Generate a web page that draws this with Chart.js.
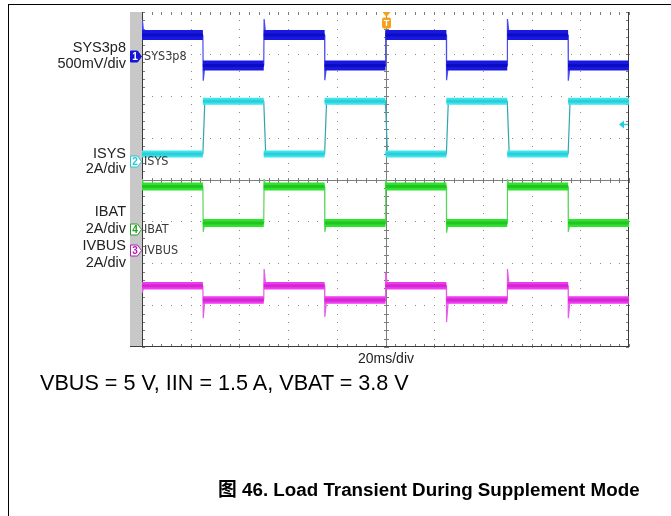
<!DOCTYPE html>
<html>
<head>
<meta charset="utf-8">
<script src="https://cdn.jsdelivr.net/npm/chart.js@4.4.0/dist/chart.umd.min.js"></script>
<style>
  html, body { margin: 0; padding: 0; background: #fff; width: 671px; height: 516px; overflow: hidden; }
  #wrap { position: relative; width: 671px; height: 516px; }
  #frame { position: absolute; left: 8px; top: 4px; width: 700px; height: 600px;
           border-left: 1px solid #000; border-top: 1px solid #000; }
  canvas { position: absolute; left: 0; top: 0; }
  .lbl { position: absolute; font-family: "Liberation Sans", Arial, Helvetica, "Noto Sans CJK SC", sans-serif;
         color: #222; white-space: nowrap; }
  .ch { right: 545px; text-align: right; font-size: 14.5px; line-height: 16px; }
</style>
</head>
<body>
<div id="wrap">
  <div id="frame"></div>
  <canvas id="scope" width="671" height="516"></canvas>

  <div class="lbl ch" style="top:39px">SYS3p8</div>
  <div class="lbl ch" style="top:55px">500mV/div</div>
  <div class="lbl ch" style="top:145px">ISYS</div>
  <div class="lbl ch" style="top:160px">2A/div</div>
  <div class="lbl ch" style="top:203px">IBAT</div>
  <div class="lbl ch" style="top:220px">2A/div</div>
  <div class="lbl ch" style="top:237px">IVBUS</div>
  <div class="lbl ch" style="top:254px">2A/div</div>

  <div class="lbl" style="left:358px;top:351px;font-size:14px;line-height:14px;">20ms/div</div>
  <div class="lbl" style="left:40px;top:372px;font-size:21.6px;line-height:21px;color:#000;">VBUS = 5 V, IIN = 1.5 A, VBAT = 3.8 V</div>
  <div class="lbl" style="left:218px;top:481px;font-size:18.8px;line-height:18px;font-weight:bold;color:#000;">图 46. Load Transient During Supplement Mode</div>
</div>

<script>
// Screen: 10 horizontal divisions at 20 ms/div, 8 vertical divisions
const timeTicks = [-100, -80, -60, -40, -20, 0, 20, 40, 60, 80, 100];   // ms
const divTicks  = [-4, -3, -2, -1, 0, 1, 2, 3, 4];                       // divisions

// Load steps every 25 ms
const edgeTimes = [-100, -75, -50, -25, 0, 25, 50, 75, 100];

// Settled level of each trace between successive edges (screen divisions)
const sys3p8Levels = [3.45, 2.72, 3.45, 2.72, 3.45, 2.72, 3.45, 2.72];
const isysLevels   = [0.61, 1.87, 0.61, 1.87, 0.61, 1.87, 0.61, 1.87];
const ibatLevels   = [-0.17, -1.04, -0.17, -1.04, -0.17, -1.04, -0.17, -1.04];
const ivbusLevels  = [-2.54, -2.88, -2.54, -2.88, -2.54, -2.88, -2.54, -2.88];

// Overshoot / undershoot peak at each edge (null where the step is clean)
const sys3p8Peaks = [3.81, 2.36, 3.83, 2.37, 3.55, 2.37, 3.83, 2.36];
const isysPeaks   = [null, null, null, null, null, null, null, null];
const ibatPeaks   = [0.01, -1.25, 0.01, -1.25, 0.0, -1.27, 0.01, -1.25];
const ivbusPeaks  = [-2.70, -3.31, -2.14, -3.28, -2.20, -3.40, -2.14, -3.31];

// Channel ground markers on the left edge
const channelNames   = ['SYS3p8', 'ISYS', 'IVBUS', 'IBAT'];
const channelNumbers = ['1', '2', '3', '4'];
const channelZero    = [2.96, 0.44, -1.68, -1.19];
const triggerTime    = 0;
const isysRefLevel   = 1.33;

const chColors = {
  '1': { band: '#1818e2', core: '#0c0cc0', edge: '#4a4af2', tag: '#1414d8', filled: true },
  '2': { band: '#3de5ec', core: '#2ccfd8', edge: '#2fa5ae', tag: '#22c8d4', filled: false },
  '3': { band: '#f03af0', core: '#d226d2', edge: '#e55ce5', tag: '#b020b0', filled: false },
  '4': { band: '#2ee22e', core: '#22c422', edge: '#5ad45a', tag: '#22a022', filled: false }
};

// Thin trace including the vertical steps and their ringing peaks
function edgePath(levels, peaks) {
  const pts = [];
  for (let i = 0; i < levels.length; i++) {
    const t0 = edgeTimes[i], t1 = edgeTimes[i + 1];
    const prev = i > 0 ? levels[i - 1] : levels[i];
    pts.push({ x: t0, y: prev });
    if (peaks[i] !== null) pts.push({ x: t0 + 0.15, y: peaks[i] });
    pts.push({ x: t0 + 0.8, y: levels[i] });
    pts.push({ x: t1, y: levels[i] });
  }
  return pts;
}
// Flat noisy plateaus, one segment per level
function bandPath(levels) {
  const pts = [];
  for (let i = 0; i < levels.length; i++) {
    pts.push({ x: edgeTimes[i], y: levels[i] });
    pts.push({ x: edgeTimes[i + 1], y: levels[i] });
    pts.push({ x: edgeTimes[i + 1], y: null });
  }
  return pts;
}

function traceSets(levels, peaks, num, bandWidth) {
  const c = chColors[num];
  const common = { pointRadius: 0, tension: 0, fill: false, spanGaps: false, borderCapStyle: 'butt' };
  return [
    Object.assign({ label: 'ch' + num + ' step', data: edgePath(levels, peaks), borderColor: c.edge,
                    borderWidth: 1.2, borderJoinStyle: 'bevel', order: 3 }, common),
    Object.assign({ label: 'ch' + num, data: bandPath(levels), borderColor: c.band,
                    borderWidth: bandWidth, order: 2 }, common),
    Object.assign({ label: 'ch' + num + ' core', data: bandPath(levels), borderColor: c.core,
                    borderWidth: 3, order: 1 }, common)
  ];
}

const screenPlugin = {
  id: 'scopeScreen',
  beforeDatasetsDraw(chart) {
    const { ctx, chartArea: a, scales: { x, y } } = chart;
    ctx.save();
    // marker strip
    ctx.fillStyle = '#c8c8c8';
    ctx.fillRect(a.left - 12, a.top, 12, a.bottom - a.top);

    // dotted graticule
    ctx.fillStyle = '#8a8a8a';
    for (const t of timeTicks) {
      if (t === timeTicks[0] || t === timeTicks[timeTicks.length - 1] || t === 0) continue;
      const px = Math.round(x.getPixelForValue(t));
      for (let k = 0; k <= 40; k++) {
        const py = Math.round(y.getPixelForValue(-4 + k * 0.2));
        ctx.fillRect(px, py, 1, 1);
      }
    }
    for (const v of divTicks) {
      if (Math.abs(v) === 4 || v === 0) continue;
      const py = Math.round(y.getPixelForValue(v));
      for (let k = 0; k <= 50; k++) {
        const px = Math.round(x.getPixelForValue(-100 + k * 4));
        ctx.fillRect(px, py, 1, 1);
      }
    }

    // centre cross with minor ticks
    const cx = Math.round(x.getPixelForValue(0)) + 0.5;
    const cy = Math.round(y.getPixelForValue(0)) + 0.5;
    ctx.strokeStyle = '#7c7c7c';
    ctx.lineWidth = 1;
    ctx.beginPath();
    ctx.moveTo(a.left, cy); ctx.lineTo(a.right, cy);
    ctx.moveTo(cx, a.top); ctx.lineTo(cx, a.bottom);
    for (let k = 0; k <= 50; k++) {
      const px = Math.round(x.getPixelForValue(-100 + k * 4)) + 0.5;
      ctx.moveTo(px, cy - 2.5); ctx.lineTo(px, cy + 2.5);
      // ticks on top and bottom edges
      ctx.moveTo(px, a.top); ctx.lineTo(px, a.top + 3);
      ctx.moveTo(px, a.bottom); ctx.lineTo(px, a.bottom - 3);
    }
    for (let k = 0; k <= 40; k++) {
      const py = Math.round(y.getPixelForValue(-4 + k * 0.2)) + 0.5;
      ctx.moveTo(cx - 2.5, py); ctx.lineTo(cx + 2.5, py);
      ctx.moveTo(a.left, py); ctx.lineTo(a.left + 3, py);
      ctx.moveTo(a.right, py); ctx.lineTo(a.right - 3, py);
    }
    ctx.stroke();

    // left, right and bottom borders
    ctx.strokeStyle = '#3c3c3c';
    ctx.beginPath();
    const l = Math.round(a.left) + 0.5, r = Math.round(a.right) - 0.5, b = Math.round(a.bottom) - 0.5;
    ctx.moveTo(l, a.top); ctx.lineTo(l, a.bottom);
    ctx.moveTo(r, a.top); ctx.lineTo(r, a.bottom);
    ctx.moveTo(a.left - 12, b); ctx.lineTo(a.right, b);
    ctx.stroke();
    ctx.restore();
  },
  afterDatasetsDraw(chart) {
    const { ctx, chartArea: a, scales: { x, y } } = chart;
    ctx.save();
    // channel tags
    for (let i = 0; i < channelNames.length; i++) {
      const num = channelNumbers[i];
      const c = chColors[num];
      const py = Math.round(y.getPixelForValue(channelZero[i])) + 0.5;
      const xl = a.left - 11.5, xr = a.left - 4.5, xt = a.left - 0.5, h = 5.5;
      ctx.beginPath();
      ctx.moveTo(xl, py - h); ctx.lineTo(xr, py - h); ctx.lineTo(xt, py);
      ctx.lineTo(xr, py + h); ctx.lineTo(xl, py + h); ctx.closePath();
      ctx.fillStyle = c.filled ? c.tag : '#ffffff';
      ctx.fill();
      ctx.lineWidth = 1;
      ctx.strokeStyle = c.tag;
      ctx.stroke();
      ctx.fillStyle = c.filled ? '#ffffff' : c.tag;
      ctx.font = 'bold 10px "Liberation Sans", Arial, sans-serif';
      ctx.textAlign = 'center';
      ctx.textBaseline = 'middle';
      ctx.fillText(num, xl + 4.5, py + 0.5);
      ctx.fillStyle = '#3a3a3a';
      ctx.font = '12.5px "Liberation Sans Narrow", "DejaVu Sans Condensed", Arial, sans-serif';
      ctx.textAlign = 'left';
      ctx.fillText(channelNames[i], a.left + 2, py + 0.5);
    }

    // trigger position marker
    const tx = Math.round(x.getPixelForValue(triggerTime)) + 0.5;
    ctx.fillStyle = '#f4a21c';
    ctx.beginPath();
    ctx.moveTo(tx - 4, a.top); ctx.lineTo(tx + 4, a.top); ctx.lineTo(tx, a.top + 5); ctx.closePath();
    ctx.fill();
    ctx.beginPath();
    ctx.roundRect(tx - 4.5, a.top + 5.5, 9, 11, 2);
    ctx.fill();
    ctx.fillStyle = '#ffffff';
    ctx.font = 'bold 9px "Liberation Sans", Arial, sans-serif';
    ctx.textAlign = 'center';
    ctx.textBaseline = 'middle';
    ctx.fillText('T', tx, a.top + 11.5);

    // ISYS trigger-level arrow at the right edge
    const ay = Math.round(y.getPixelForValue(isysRefLevel)) + 0.5;
    const ar = Math.round(a.right) - 1;
    ctx.strokeStyle = '#22d0dc';
    ctx.fillStyle = '#22d0dc';
    ctx.lineWidth = 1.5;
    ctx.beginPath();
    ctx.moveTo(ar - 5, ay); ctx.lineTo(ar, ay);
    ctx.stroke();
    ctx.beginPath();
    ctx.moveTo(ar - 9, ay); ctx.lineTo(ar - 4, ay - 4); ctx.lineTo(ar - 4, ay + 4); ctx.closePath();
    ctx.fill();
    ctx.restore();
  }
};

const datasets = [].concat(
  traceSets(sys3p8Levels, sys3p8Peaks, '1', 10),
  traceSets(isysLevels, isysPeaks, '2', 7),
  traceSets(ibatLevels, ibatPeaks, '4', 8),
  traceSets(ivbusLevels, ivbusPeaks, '3', 7.5)
);

new Chart(document.getElementById('scope'), {
  type: 'line',
  data: { datasets },
  options: {
    responsive: false,
    devicePixelRatio: 1,
    animation: false,
    events: [],
    layout: { padding: { left: 142, top: 12, right: 42, bottom: 169 } },
    scales: {
      x: { type: 'linear', min: -100, max: 100, display: false },
      y: { type: 'linear', min: -4, max: 4, display: false }
    },
    plugins: { legend: { display: false }, tooltip: { enabled: false }, title: { display: false } }
  },
  plugins: [screenPlugin]
});
</script>
</body>
</html>
